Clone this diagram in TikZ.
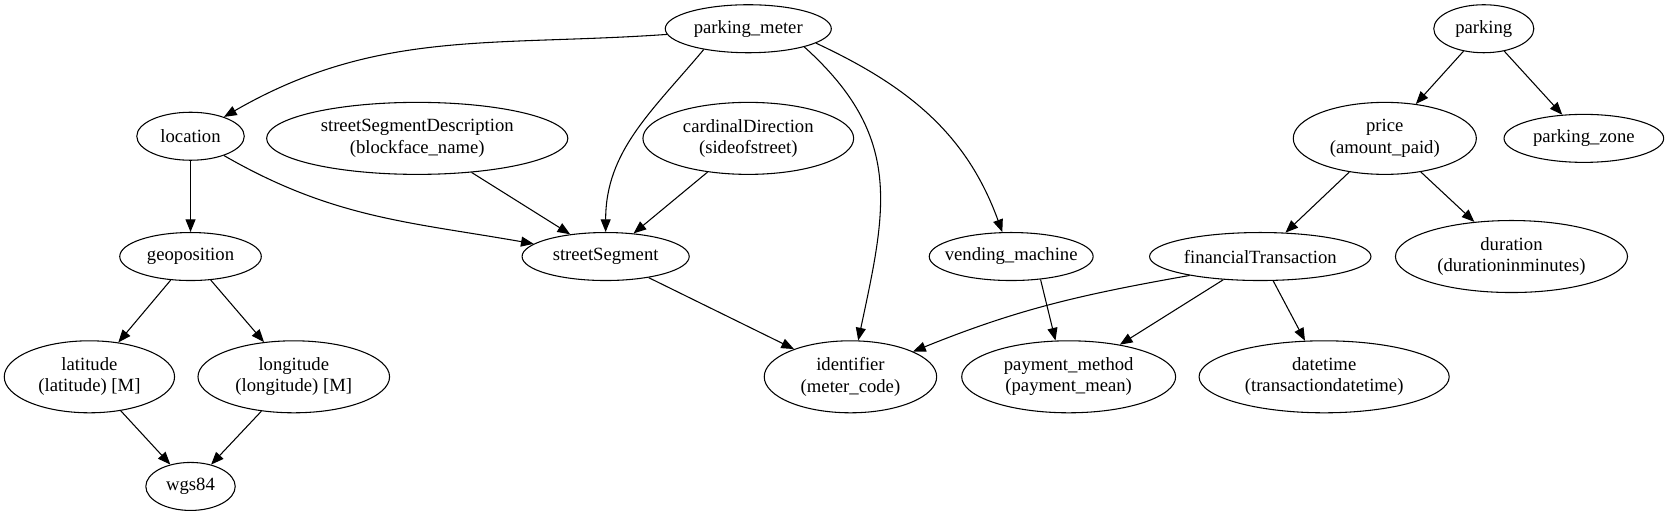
\documentclass[tikz,border=0pt]{standalone}
\usepackage{fontspec}
\setmainfont{Liberation Serif}
\usetikzlibrary{shapes.geometric,arrows.meta}

\begin{document}
\begin{tikzpicture}[x=0.7983pt,y=-0.7983pt,
                ent/.style={draw,ellipse,align=center,line width=0.8pt,inner sep=-12pt,
                    minimum width=#1*0.7983pt,minimum height=36pt,font=\fontsize{14pt}{16pt}\selectfont},
                ent2/.style={ent=#1,minimum height=54pt},
                rel/.style={-{Triangle[length=9.5pt,width=7.5pt]},line width=0.8pt}]
                \useasboundingbox (0,0) rectangle (1568,484);
                \node[ent=156](meter) at (703,27){parking\_meter};
                \node[ent=94](parking) at (1394,27){parking};
                \node[ent=101](loc) at (179,128){location};
                \node[ent2=283](desc) at (392,130){streetSegmentDescription \\ (blockface\_name)};
                \node[ent2=198](card) at (703,130){cardinalDirection \\ (sideofstreet)};
                \node[ent2=172](price) at (1301,130){price \\ (amount\_paid)};
                \node[ent=150](zone) at (1488,130){parking\_zone};
                \node[ent=133](geo) at (179,241){geoposition};
                \node[ent=157](seg) at (569,241){streetSegment};
                \node[ent=154](vend) at (950,241){vending\_machine};
                \node[ent=208](trans) at (1184,241){financialTransaction};
                \node[ent2=218](dur) at (1420,241){duration \\ (durationinminutes)};
                \node[ent2=160](lat) at (84,354){latitude \\ (latitude) [M]};
                \node[ent2=180](lon) at (276,354){longitude \\ (longitude) [M]};
                \node[ent2=162](ident) at (799,354){identifier \\ (meter\_code)};
                \node[ent2=201](pay) at (1004,354){payment\_method \\ (payment\_mean)};
                \node[ent2=235](dt) at (1244,354){datetime \\ (transactiondatetime)};
                \node[ent=84](wgs) at (179,457){wgs84};
                \draw[rel] (meter) to[out=184,in=30] (loc);
                \draw[rel] (meter.205) to[out=230,in=90] (seg);
                \draw[rel] (meter.-18) to[out=-42,in=78,looseness=1.15] (ident);
                \draw[rel] (meter.-12) to[out=-25,in=110] (vend);
                \draw[rel] (parking) -- (price);
                \draw[rel] (parking) -- (zone);
                \draw[rel] (loc) -- (geo);
                \draw[rel] (loc.-30) to[out=-30,in=170] (seg);
                \draw[rel] (desc) -- (seg);
                \draw[rel] (card) -- (seg);
                \draw[rel] (price) -- (trans);
                \draw[rel] (price) -- (dur);
                \draw[rel] (geo) -- (lat);
                \draw[rel] (geo) -- (lon);
                \draw[rel] (lat) -- (wgs);
                \draw[rel] (lon) -- (wgs);
                \draw[rel] (seg) -- (ident);
                \draw[rel] (vend.-38) -- (pay.110);
                \draw[rel] (trans.195) to[out=190,in=22] (ident);
                \draw[rel] (trans) -- (pay);
                \draw[rel] (trans) -- (dt);
            \end{tikzpicture}
\end{document}
